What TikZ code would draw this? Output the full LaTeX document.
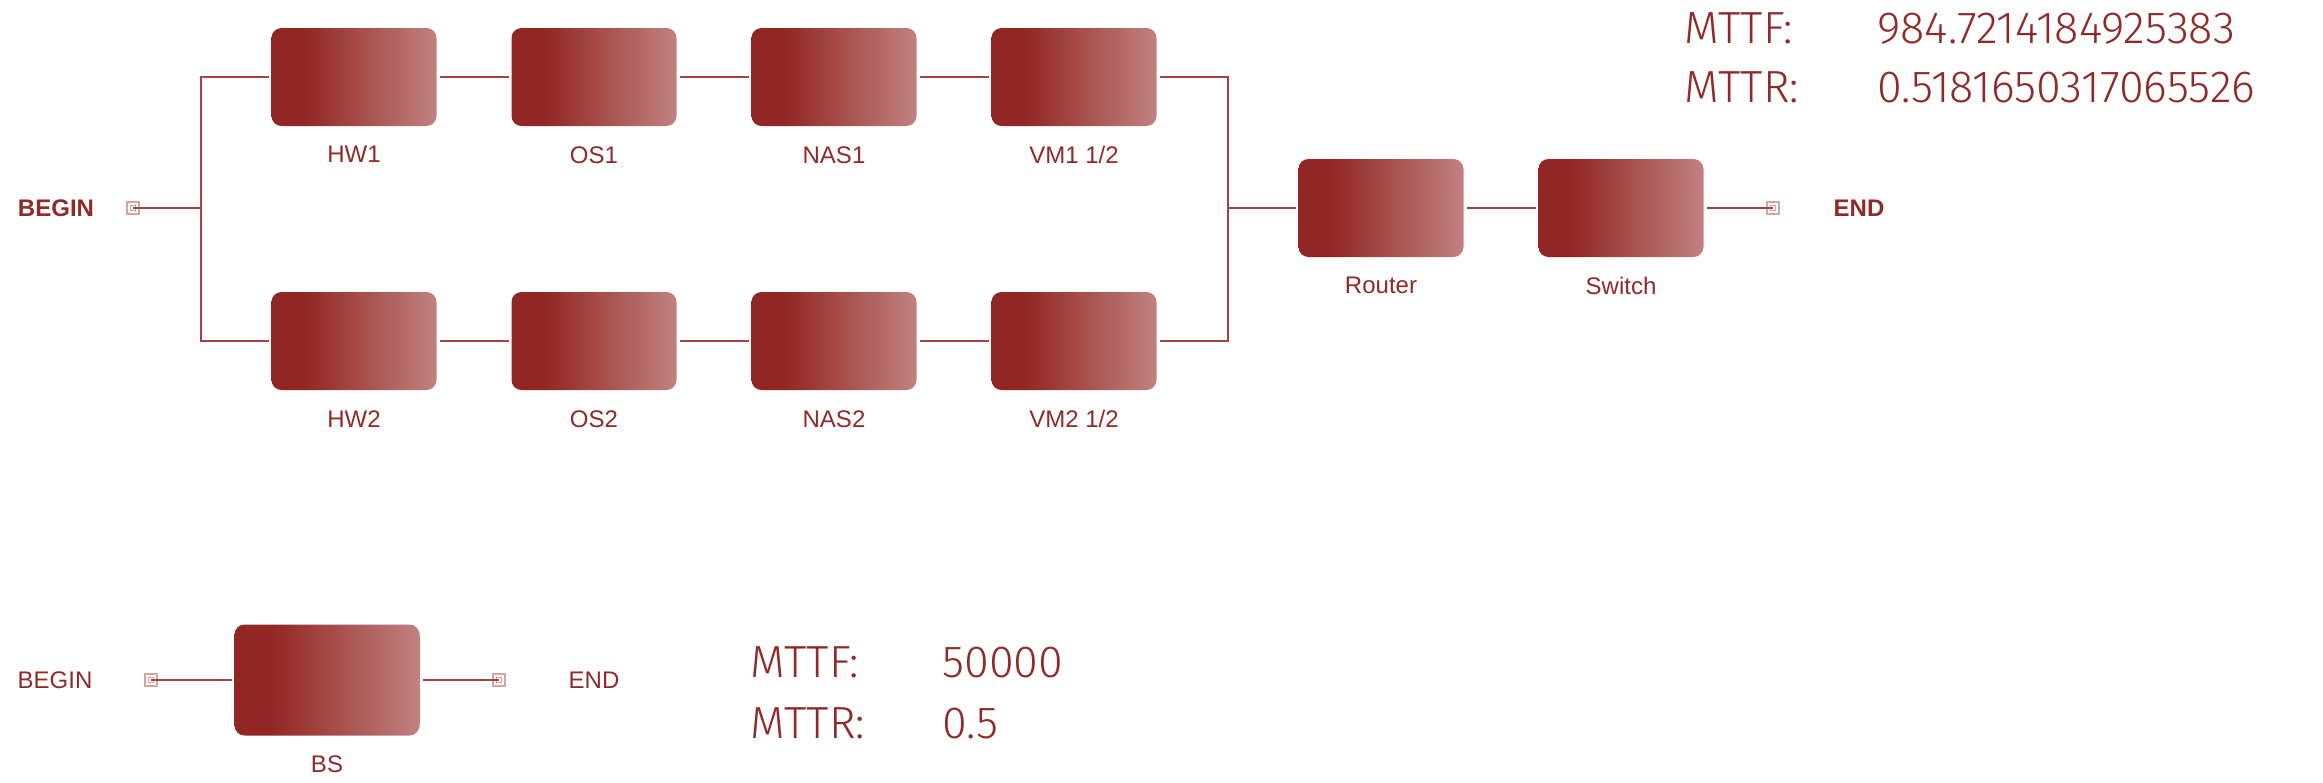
\documentclass[tikz,border=0pt]{standalone}
\usepackage{fontspec}
\setmainfont{Liberation Sans}
\newfontfamily\valfont{Fira Sans}[UprightFont={* Light}]
\usepackage{xcolor}
\usetikzlibrary{positioning,calc}

\definecolor{rbdark}{HTML}{922622}
\definecolor{rblight}{HTML}{C08280}
\definecolor{rbline}{HTML}{A8413F}
\definecolor{rbtext}{HTML}{8F2A28}
\definecolor{rbterm}{HTML}{D9A3A2}

\pgfdeclarehorizontalshading{blockshade}{100bp}{color(0bp)=(rbdark); color(35bp)=(rbdark); color(75bp)=(rblight); color(100bp)=(rblight)}

\begin{document}
\begin{tikzpicture}[x=0.5pt, y=-0.5pt, node distance=34.5pt,
    block/.style={shade, shading=blockshade, rounded corners=5pt, minimum width=82.5pt, minimum height=49pt, inner sep=0pt, outer sep=1.5pt},
    tag/.style={inner sep=0pt, text=rbtext, font=\fontsize{12pt}{14pt}\selectfont},
    val/.style={inner sep=0pt, anchor=base west, text=rbtext, font=\valfont\fontsize{22.5pt}{25pt}\selectfont},
    term/.style={draw=rbterm, line width=0.6pt, minimum size=6pt, inner sep=0pt,
        path picture={\draw[rbterm, line width=0.5pt] ([shift={(-1.3pt,-1.3pt)}]path picture bounding box.center) rectangle ([shift={(1.3pt,1.3pt)}]path picture bounding box.center);}},
    wire/.style={draw=rbline, line width=1pt},
]
\useasboundingbox (0,0) rectangle (2323,782);

% upper branch
\node[block] (hw1) at (354,77) {};
\node[block, right=of hw1] (os1) {};
\node[block, right=of os1] (nas1) {};
\node[block, right=of nas1] (vm1) {};

% lower branch
\node[block] (hw2) at (354,341) {};
\node[block, right=of hw2] (os2) {};
\node[block, right=of os2] (nas2) {};
\node[block, right=of nas2] (vm2) {};

% series part
\node[block] (router) at (1381,208) {};
\node[block, right=of router] (switch) {};

\node[term] (b1) at (133,208) {};
\node[tag, font=\bfseries\fontsize{12pt}{14pt}\selectfont] (begin1) at (56,208) {BEGIN};
\node[term] (e1) at (1773,208) {};
\node[tag, font=\bfseries\fontsize{12pt}{14pt}\selectfont] (end1) at (1859,208) {END};

\coordinate (lbus) at (201,208);
\coordinate (rbus) at (1228,208);

\node[tag, below=8.5pt of hw1] (hw1l) {HW1};
\node[tag, below=8.5pt of os1] (os1l) {OS1};
\node[tag, below=8.5pt of nas1] (nas1l) {NAS1};
\node[tag, below=8.5pt of vm1] (vm1l) {VM1 1/2};
\node[tag, below=8.5pt of hw2] (hw2l) {HW2};
\node[tag, below=8.5pt of os2] (os2l) {OS2};
\node[tag, below=8.5pt of nas2] (nas2l) {NAS2};
\node[tag, below=8.5pt of vm2] (vm2l) {VM2 1/2};
\node[tag, below=8.5pt of router] (routerl) {Router};
\node[tag, below=8.5pt of switch] (switchl) {Switch};

\draw[wire] (b1.center) -- (lbus) |- (hw1);
\draw[wire] (lbus) |- (hw2);
\draw[wire] (hw1) -- (os1) -- (nas1) -- (vm1);
\draw[wire] (hw2) -- (os2) -- (nas2) -- (vm2);
\draw[wire] (vm1) -| (rbus) -- (router);
\draw[wire] (vm2) -| (rbus);
\draw[wire] (router) -- (switch);
\draw[wire] (switch) -- (e1.center);

% results
\node[val] (mttf1) at (1684,43) {MTTF:};
\node[val] (mttf1v) at (1877,43) {984.7214184925383};
\node[val] (mttr1) at (1684,102) {MTTR:};
\node[val] (mttr1v) at (1877,102) {0.5181650317065526};

% second diagram
\node[block, minimum width=92.5pt, minimum height=55.5pt] (bs) at (327,680) {};
\node[tag, below=8.5pt of bs] (bsl) {BS};
\node[term] (b2) at (151,680) {};
\node[tag] (begin2) at (55,680) {BEGIN};
\node[term] (e2) at (499,680) {};
\node[tag] (end2) at (594,680) {END};
\draw[wire] (b2.center) -- (bs);
\draw[wire] (bs) -- (e2.center);

\node[val] (mttf2) at (750,677) {MTTF:};
\node[val] (mttf2v) at (942,677) {50000};
\node[val] (mttr2) at (750,738) {MTTR:};
\node[val] (mttr2v) at (942,738) {0.5};

\end{tikzpicture}
\end{document}
